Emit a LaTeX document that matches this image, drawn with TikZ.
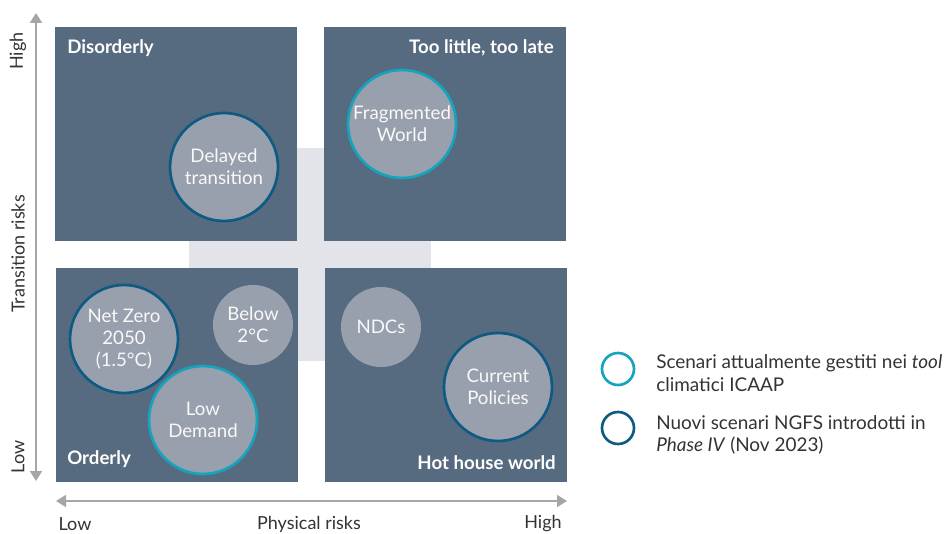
\documentclass[tikz,border=0pt]{standalone}
\usepackage{fontspec}
\setmainfont{Lato}
\usepackage{tikz}
\usetikzlibrary{arrows.meta, positioning}
\usepackage{xcolor}

\definecolor{quadfill}{HTML}{566A80}
\definecolor{crossfill}{HTML}{E3E4EA}
\definecolor{bubblefill}{HTML}{98A0AE}
\definecolor{newblue}{HTML}{0E5A82}
\definecolor{toolteal}{HTML}{15A3BE}
\definecolor{axisgray}{HTML}{A6A6A6}
\definecolor{legendtext}{HTML}{333333}

\begin{document}
\begin{tikzpicture}[
  x=0.75pt, y=-0.75pt,
  quad/.style={fill=quadfill, draw=none},
  title/.style={font=\fontsize{14}{16}\selectfont\bfseries, text=white, inner sep=0pt},
  bubble/.style={circle, fill=bubblefill, minimum size=81pt, inner sep=0pt, align=center, text=white!95!gray, font=\fontsize{14}{16.5}\selectfont},
  small/.style={bubble, minimum size=60pt},
  newsc/.style={draw=newblue, line width=2pt},
  toolsc/.style={draw=toolteal, line width=2pt},
  axis/.style={{Triangle[length=7.5pt, width=9pt]}-{Triangle[length=7.5pt, width=9pt]}, axisgray, line width=1.5pt},
  axlabel/.style={font=\fontsize{13.5}{16}\selectfont, text=legendtext, inner sep=0pt},
  legend/.style={font=\fontsize{14.2}{17}\selectfont, text=legendtext, inner sep=0pt, align=left, anchor=west}
]
\useasboundingbox (0,0) rectangle (948,534);

% background cross and quadrants
\fill[crossfill] (189,148) rectangle (431,361);
\fill[quad] (55,27) rectangle (297,241);
\fill[quad] (324,27) rectangle (566,241);
\fill[quad] (56,268) rectangle (298,482);
\fill[quad] (325,268) rectangle (567,482);

\node[title, anchor=west] (disorderly) at (67,48) {Disorderly};
\node[title, anchor=east] (toolate) at (554,48) {Too little, too late};
\node[title, anchor=west] (orderly) at (67,459) {Orderly};
\node[title, anchor=east] (hothouse) at (556,463) {Hot house world};

% scenarios
\node[bubble, newsc] (delayed) at (224,167) {Delayed\\transition};
\node[bubble, toolsc] (fragmented) at (402,124) {Fragmented\\World};
\node[bubble, newsc] (netzero) at (124,339) {Net Zero\\2050\\(1.5°C)};
\node[small] (below) at (253,325) {Below\\2°C};
\node[bubble, toolsc] (lowdemand) at (203,420) {Low\\Demand};
\node[small] (ndcs) at (381,327) {NDCs};
\node[bubble, newsc] (current) at (498,387) {Current\\Policies};

% axes
\coordinate (ylow) at (36,481);
\coordinate (yhigh) at (36,13);
\coordinate (xlow) at (56,501);
\coordinate (xhigh) at (567,501);
\draw[axis] (ylow) -- (yhigh);
\draw[axis] (xlow) -- (xhigh);

\node[axlabel, rotate=90] (yhighlbl) at (18,51) {High};
\node[axlabel, rotate=90] (ytitle) at (18,254) {Transition risks};
\node[axlabel, rotate=90] (ylowlbl) at (18,457) {Low};
\node[axlabel] (xlowlbl) at (75,524) {Low};
\node[axlabel] (xtitle) at (309,524) {Physical risks};
\node[axlabel] (xhighlbl) at (543,524) {High};

% legend
\node[circle, toolsc, minimum size=24pt, inner sep=0pt] (keytool) at (618,369) {};
\node[circle, newsc, minimum size=24pt, inner sep=0pt] (keynew) at (618,428) {};
\node[legend] (tooltext) at (656,373) {Scenari attualmente gestiti nei \textit{tool}\\climatici ICAAP};
\node[legend] (newtext) at (656,435) {Nuovi scenari NGFS introdotti in\\\textit{Phase IV} (Nov 2023)};
\end{tikzpicture}
\end{document}
